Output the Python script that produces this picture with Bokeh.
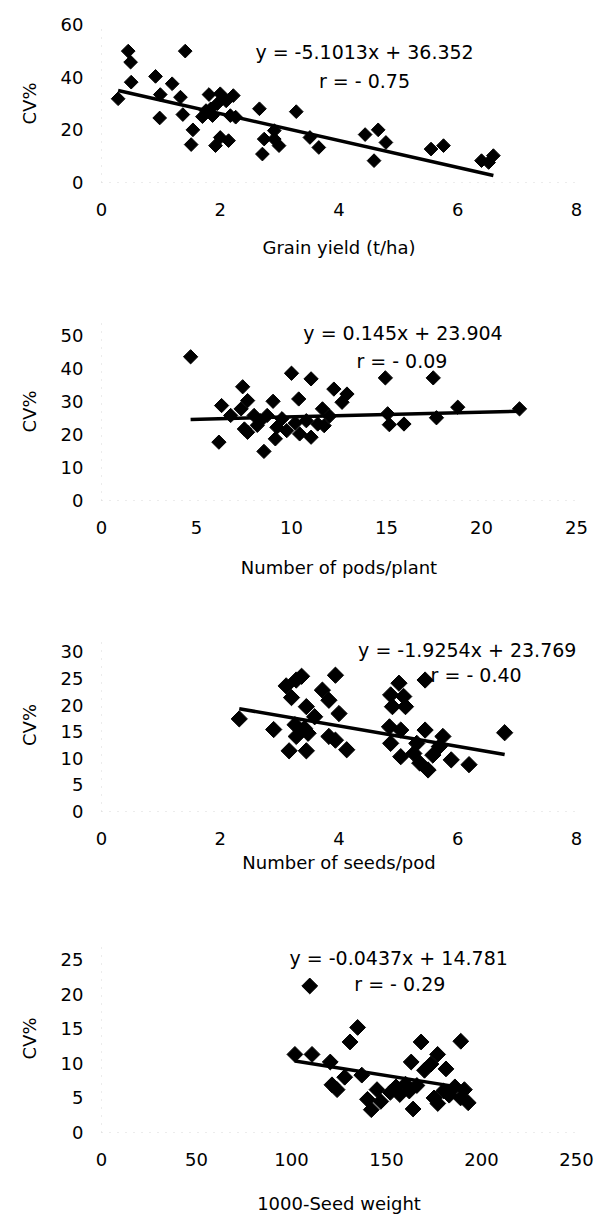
import numpy as np
from bokeh.plotting import figure
from bokeh.layouts import column
from bokeh.models import Range1d, Label, FixedTicker
from bokeh.embed import file_html
from bokeh.resources import INLINE

FONT = "DejaVu Sans"

# ---- Grain yield (t/ha) vs CV% ----
yield_x = [0.28, 0.45, 0.49, 0.50, 0.91, 0.99, 0.98, 1.19, 1.33, 1.37, 1.41, 1.54,
           1.51, 1.70, 1.76, 1.81, 1.84, 1.87, 1.95, 2.00, 2.00, 1.92, 2.10, 2.14,
           2.17, 2.22, 2.26, 2.66, 2.74, 2.71, 2.91, 2.91, 2.99, 3.28, 3.51, 3.66,
           4.44, 4.66, 4.79, 4.59, 5.55, 5.76, 6.40, 6.52, 6.60]
yield_cv = [31.8, 49.9, 45.7, 38.1, 40.3, 33.4, 24.5, 37.5, 32.4, 25.8, 49.9, 20.0,
            14.4, 25.0, 27.3, 33.4, 28.0, 25.4, 29.9, 33.7, 17.1, 14.0, 31.0, 15.9,
            25.4, 33.0, 24.8, 28.0, 16.5, 10.8, 19.7, 16.5, 14.0, 26.9, 17.1, 13.3,
            18.2, 20.0, 15.2, 8.3, 12.7, 14.0, 8.3, 7.6, 10.2]
yield_fit = (-5.1013, 36.352)

# ---- Number of pods/plant vs CV% ----
pods_x = [4.69, 6.18, 6.32, 6.80, 7.43, 7.69, 7.35, 7.52, 7.69, 8.03, 8.37, 8.55,
          8.72, 9.03, 9.15, 9.23, 9.75, 10.0, 10.38, 10.43, 11.03, 11.03, 10.78, 11.38,
          11.63, 11.72, 12.23, 12.66, 12.92, 14.94, 15.06, 15.15, 15.92, 17.46, 17.63, 18.75,
          22.0, 8.2, 9.5, 10.2, 12.0]
pods_cv = [43.6, 17.7, 28.8, 25.8, 34.5, 30.3, 27.8, 21.7, 20.7, 25.8, 24.2, 14.9,
           25.8, 30.1, 18.7, 22.2, 21.2, 38.6, 30.8, 20.2, 36.9, 19.2, 24.2, 23.2,
           27.8, 22.7, 33.8, 29.8, 32.3, 37.2, 26.3, 23.0, 23.2, 37.2, 25.1, 28.3,
           27.8, 22.8, 24.8, 23.5, 25.6]
pods_fit = (0.145, 23.904)

# ---- Number of seeds/pod vs CV% ----
seeds_x = [2.32, 2.90, 3.16, 3.45, 3.11, 3.20, 3.37, 3.28, 3.26, 3.28, 3.45, 3.42,
           3.59, 3.72, 3.94, 3.83, 3.83, 3.94, 4.00, 3.48, 4.13,
           5.01, 4.87, 5.09, 4.90, 5.12, 5.45, 4.85, 4.87, 5.04, 5.04, 5.31, 5.26,
           5.45, 5.50, 5.36, 5.75, 5.58, 5.89, 6.19, 6.79, 5.69]
seeds_cv = [17.4, 15.4, 11.4, 11.4, 23.6, 21.4, 25.4, 24.7, 16.3, 14.1, 19.7, 15.6,
            17.8, 22.8, 25.6, 20.9, 14.1, 13.4, 18.4, 14.7, 11.6,
            24.1, 21.9, 21.6, 19.7, 19.7, 24.7, 15.9, 12.8, 15.3, 10.3, 12.8, 10.9,
            15.3, 7.8, 9.1, 14.1, 10.6, 9.7, 8.8, 14.8, 12.2]
seeds_fit = (-1.9254, 23.769)

# ---- 1000-Seed weight vs CV% ----
weight_x = [109.6, 101.8, 110.8, 120.4, 121.3, 134.8, 130.8, 163.0, 168.2, 189.1,
            176.9, 173.4, 170.0, 181.3, 124.0, 128.0, 137.0, 140.0, 142.0, 145.0,
            147.0, 152.0, 155.0, 157.0, 160.0, 162.0, 164.0, 166.0, 175.0, 177.0,
            180.0, 183.0, 186.0, 189.0, 191.0, 193.0]
weight_cv = [21.2, 11.3, 11.3, 10.2, 6.9, 15.2, 13.1, 10.2, 13.1, 13.2,
             11.3, 9.9, 9.0, 9.2, 6.2, 8.0, 8.3, 4.8, 3.3, 6.2,
             4.5, 5.8, 6.6, 5.5, 7.0, 6.0, 3.4, 6.8, 5.0, 4.2,
             6.0, 5.4, 6.6, 5.0, 6.2, 4.3]
weight_fit = (-0.0437, 14.781)

# Each panel: data, fit, axis ranges (y ranges carry a little headroom past the
# last tick so the equation text sits fully inside the plotting area), ticks, texts.
panels = [
    dict(x=yield_x, y=yield_cv, fit=yield_fit, xr=(0, 8), yr=(0, 60),
         xt=[0, 2, 4, 6, 8], yt=[0, 20, 40, 60], xlabel="Grain yield (t/ha)",
         eq="y = -5.1013x + 36.352", r="r =  - 0.75", eq_pos=(4.43, 49.5), r_pos=(4.48, 38.7),
         h=290, left=93, right=580, top=24, fh=158, title_off=18, size=9.7),
    dict(x=pods_x, y=pods_cv, fit=pods_fit, xr=(0, 25), yr=(0, 54),
         xt=[0, 5, 10, 15, 20, 25], yt=[0, 10, 20, 30, 40, 50], xlabel="Number of pods/plant",
         eq="y = 0.145x + 23.904", r="r =  - 0.09", eq_pos=(15.87, 50.9), r_pos=(15.97, 42.4),
         h=300, left=90, right=576, top=32, fh=178, title_off=20, size=10.1),
    dict(x=seeds_x, y=seeds_cv, fit=seeds_fit, xr=(0, 8), yr=(0, 32.5),
         xt=[0, 2, 4, 6, 8], yt=[0, 5, 10, 15, 20, 25, 30], xlabel="Number of seeds/pod",
         eq="y = -1.9254x + 23.769", r="r =  - 0.40", eq_pos=(6.16, 30.3), r_pos=(6.36, 25.6),
         h=320, left=93, right=580, top=48, fh=173, title_off=4, size=11.5),
    dict(x=weight_x, y=weight_cv, fit=weight_fit, xr=(0, 250), yr=(0, 27.2),
         xt=[0, 50, 100, 150, 200, 250], yt=[0, 5, 10, 15, 20, 25], xlabel="1000-Seed weight",
         eq="y = -0.0437x + 14.781", r="r = - 0.29", eq_pos=(156.4, 25.3), r_pos=(157.0, 21.5),
         h=306, left=101, right=580, top=34, fh=193, title_off=24, size=11.2),
]

figs = []
for cfg in panels:
    bottom = cfg["h"] - cfg["top"] - cfg["fh"]
    p = figure(width=595, height=cfg["h"],
               x_range=Range1d(*cfg["xr"]), y_range=Range1d(*cfg["yr"]),
               min_border_left=cfg["left"], min_border_right=595 - cfg["right"],
               min_border_top=cfg["top"], min_border_bottom=bottom,
               output_backend="svg", toolbar_location=None)
    p.outline_line_color = None
    p.xgrid.visible = False
    p.ygrid.visible = False
    p.background_fill_color = "white"
    p.border_fill_color = "white"

    p.xaxis.ticker = FixedTicker(ticks=cfg["xt"])
    p.yaxis.ticker = FixedTicker(ticks=cfg["yt"])
    p.yaxis.axis_label = "CV%"
    p.xaxis.axis_label = cfg["xlabel"]
    for ax in (p.xaxis[0], p.yaxis[0]):
        ax.axis_line_color = "#d8d8d8"
        ax.axis_line_dash = "1 7"
        ax.major_tick_line_color = None
        ax.minor_tick_line_color = None
        ax.major_tick_out = 0
        ax.major_tick_in = 0
        ax.major_label_text_font = FONT
        ax.major_label_text_font_size = "18px"
        ax.major_label_text_color = "black"
        ax.axis_label_text_font = FONT
        ax.axis_label_text_font_size = "18px"
        ax.axis_label_text_font_style = "normal"
        ax.axis_label_text_color = "black"
    p.xaxis.major_label_standoff = 20
    p.yaxis.major_label_standoff = 18
    p.yaxis.axis_label_standoff = 18
    p.xaxis.axis_label_standoff = cfg["title_off"]

    # fitted trend line over the observed range
    slope, intercept = cfg["fit"]
    lx = np.array([min(cfg["x"]), max(cfg["x"])])
    p.line(lx, slope * lx + intercept, line_color="black", line_width=3.5)

    # observations as filled diamonds
    p.scatter(cfg["x"], cfg["y"], marker="square", size=cfg["size"], angle=np.pi / 4,
              fill_color="black", line_color="black")

    for txt, (tx, ty) in ((cfg["eq"], cfg["eq_pos"]), (cfg["r"], cfg["r_pos"])):
        p.add_layout(Label(x=tx, y=ty, text=txt, text_align="center", text_baseline="middle",
                           text_font=FONT, text_font_size="19px", text_color="black"))
    figs.append(p)

layout = column(*figs)
open("out.html", "w").write(file_html(layout, INLINE))
